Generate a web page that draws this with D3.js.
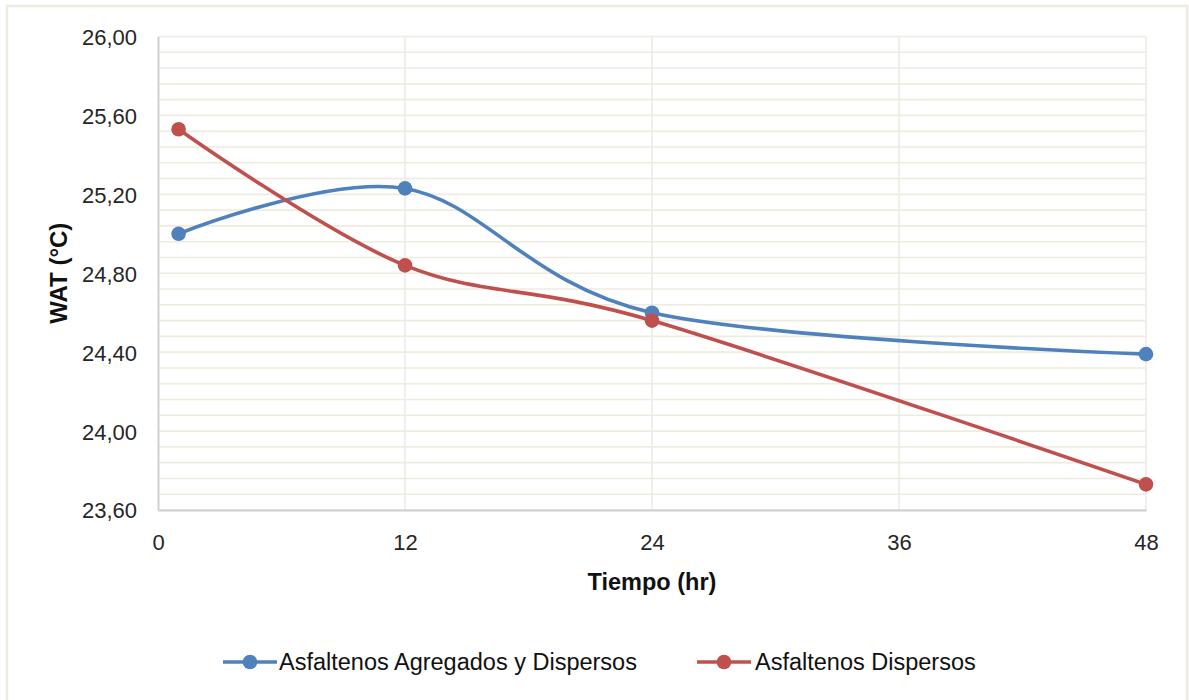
<!DOCTYPE html>
<html>
<head>
<meta charset="utf-8">
<script src="https://cdn.jsdelivr.net/npm/d3@7/dist/d3.min.js"></script>
<style>
  html, body { margin: 0; padding: 0; background: #ffffff; }
  svg { display: block; }
  text { font-family: "Liberation Sans", Arial, sans-serif; }
</style>
</head>
<body>
<svg id="chart" width="1189" height="700"></svg>
<script>
// Sampling times (hours) and WAT readings (°C) for each asphaltene condition
const hours = [1, 12, 24, 48];
const watAgregadosDispersos = [25.00, 25.23, 24.60, 24.39];
const watDispersos = [25.53, 24.84, 24.56, 23.73];

const seriesNames = ["Asfaltenos Agregados y Dispersos", "Asfaltenos Dispersos"];
const seriesColors = ["#4f81bd", "#c0504d"];

// Axis ticks
const xTicks = [0, 12, 24, 36, 48];
const yTicks = [23.60, 24.00, 24.40, 24.80, 25.20, 25.60, 26.00];
const yMinorStep = 0.08;

const xTitle = "Tiempo (hr)";
const yTitle = "WAT (°C)";

const svg = d3.select("#chart");
const plot = { left: 158, right: 1146, top: 36.5, bottom: 510 };

const x = d3.scaleLinear().domain([0, 48]).range([plot.left, plot.right]);
const y = d3.scaleLinear().domain([23.6, 26.0]).range([plot.bottom, plot.top]);

const es = d3.formatLocale({ decimal: ",", thousands: ".", grouping: [3], currency: ["", " €"] });
const fmt = es.format(".2f");

// Outer chart frame
svg.append("rect")
  .attr("x", 7).attr("y", 6)
  .attr("width", 1180).attr("height", 720)
  .attr("fill", "#ffffff")
  .attr("stroke", "#eeece1")
  .attr("stroke-width", 2.5);

// Horizontal gridlines (major and minor share the same style)
const nMinor = Math.round((26.0 - 23.6) / yMinorStep);
const gridVals = d3.range(0, nMinor + 1).map(i => 23.6 + i * yMinorStep);
const grid = svg.append("g").attr("class", "grid");
grid.selectAll("line.h")
  .data(gridVals)
  .join("line")
  .attr("class", "h")
  .attr("x1", plot.left).attr("x2", plot.right)
  .attr("y1", d => y(d)).attr("y2", d => y(d))
  .attr("stroke", "#eeebe1")
  .attr("stroke-width", 1.6);

// Vertical gridlines
grid.selectAll("line.v")
  .data(xTicks.slice(1))
  .join("line")
  .attr("class", "v")
  .attr("x1", d => x(d)).attr("x2", d => x(d))
  .attr("y1", plot.top).attr("y2", plot.bottom)
  .attr("stroke", "#eeebe1")
  .attr("stroke-width", 1.6);

// Y axis
const yAxis = d3.axisLeft(y).tickValues(yTicks).tickFormat(fmt).tickSize(0).tickPadding(21);
const gy = svg.append("g").attr("transform", `translate(${plot.left},0)`).call(yAxis);
gy.select(".domain").attr("stroke", "#d0d0d0").attr("stroke-width", 2);
gy.selectAll("text")
  .attr("fill", "#262626")
  .style("font-size", "22px")
  .attr("dy", "0.36em");

// X axis
const xAxis = d3.axisBottom(x).tickValues(xTicks).tickFormat(d3.format("d")).tickSize(0).tickPadding(32);
const gx = svg.append("g").attr("transform", `translate(0,${plot.bottom})`).call(xAxis);
gx.select(".domain").attr("stroke", "#d0d0d0").attr("stroke-width", 2);
gx.selectAll("text")
  .attr("fill", "#262626")
  .style("font-size", "22px")
  .attr("dy", "0.36em");

// Axis titles
svg.append("text")
  .attr("x", (plot.left + plot.right) / 2)
  .attr("y", 590)
  .attr("text-anchor", "middle")
  .attr("fill", "#111111")
  .style("font-size", "23.5px")
  .style("font-weight", "bold")
  .text(xTitle);

svg.append("text")
  .attr("transform", `translate(58,${(plot.top + plot.bottom) / 2}) rotate(-90)`)
  .attr("text-anchor", "middle")
  .attr("dy", "0.36em")
  .attr("fill", "#111111")
  .style("font-size", "24px")
  .style("font-weight", "bold")
  .text(yTitle);

// Smoothed series lines with circular markers
const series = [watAgregadosDispersos, watDispersos];
const line = d3.line()
  .x((d, i) => x(hours[i]))
  .y(d => y(d))
  .curve(d3.curveCardinal.tension(0));

series.forEach((vals, si) => {
  const g = svg.append("g");
  g.append("path")
    .datum(vals)
    .attr("d", line)
    .attr("fill", "none")
    .attr("stroke", seriesColors[si])
    .attr("stroke-width", 3.6)
    .attr("stroke-linecap", "round");
  g.selectAll("circle")
    .data(vals)
    .join("circle")
    .attr("cx", (d, i) => x(hours[i]))
    .attr("cy", d => y(d))
    .attr("r", 7.3)
    .attr("fill", seriesColors[si]);
});

// Legend
const legendY = 662;
const legendItems = [
  { lineX: 223, textX: 279 },
  { lineX: 697, textX: 755 }
];
legendItems.forEach((it, i) => {
  const g = svg.append("g");
  g.append("line")
    .attr("x1", it.lineX).attr("x2", it.lineX + 54)
    .attr("y1", legendY).attr("y2", legendY)
    .attr("stroke", seriesColors[i])
    .attr("stroke-width", 3.6);
  g.append("circle")
    .attr("cx", it.lineX + 27).attr("cy", legendY)
    .attr("r", 7.3)
    .attr("fill", seriesColors[i]);
  g.append("text")
    .attr("x", it.textX).attr("y", legendY)
    .attr("dy", "0.36em")
    .attr("fill", "#111111")
    .style("font-size", "23.5px")
    .text(seriesNames[i]);
});
</script>
</body>
</html>
